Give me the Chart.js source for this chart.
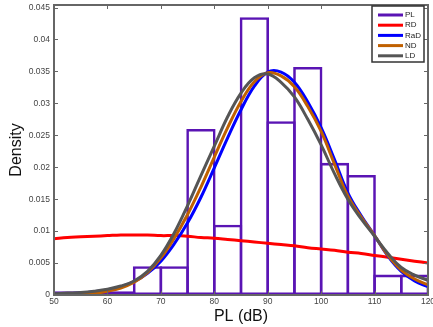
<!DOCTYPE html>
<html>
<head>
<meta charset="utf-8">
<script src="https://cdn.jsdelivr.net/npm/chart.js@4.4.0/dist/chart.umd.min.js"></script>
<style>
  body { margin: 0; background: #fff; }
  #wrap { width: 433px; height: 327px; }
</style>
</head>
<body>
<div id="wrap"><canvas id="chart" width="433" height="327"></canvas></div>
<script>
// histogram of measured PL, bins of 5 dB
const binEdges = [50, 55, 60, 65, 70, 75, 80, 85, 90, 95, 100, 105, 110, 115, 120];
const plDensity = [0.0006, 0.0006, 0.0006, 0.0045, 0.0045, 0.026, 0.011, 0.0435, 0.0272, 0.0357, 0.0207, 0.0188, 0.0032, 0.0032];

// fitted densities
const curveX = [50, 52.5, 55, 57.5, 60, 62.5, 65, 67.5, 70, 72.5, 75, 77.5, 80, 82.5, 85, 87.5,
  90, 92.5, 95, 97.5, 100, 102.5, 105, 107.5, 110, 112.5, 115, 117.5, 120];
const rd = [0.0088, 0.0090, 0.0091, 0.0092, 0.0093, 0.0094, 0.0094, 0.0094, 0.0093, 0.0093, 0.0092, 0.0090, 0.0089, 0.0087, 0.0085, 0.0083,
  0.0081, 0.0079, 0.0077, 0.0074, 0.0072, 0.0070, 0.0067, 0.0065, 0.0062, 0.0059, 0.0056, 0.0053, 0.0050];
const rad = [0.0001, 0.0002, 0.0003, 0.0005, 0.0008, 0.0013, 0.0021, 0.0034, 0.0053, 0.0080, 0.0113, 0.0153, 0.0199, 0.0246, 0.0290, 0.0327,
  0.0349, 0.0349, 0.0333, 0.0302, 0.0262, 0.0212, 0.0160, 0.0124, 0.0093, 0.0061, 0.0037, 0.0022, 0.0013];
const nd = [0.0000, 0.0001, 0.0002, 0.0003, 0.0006, 0.0011, 0.0020, 0.0035, 0.0058, 0.0089, 0.0126, 0.0169, 0.0216, 0.0262, 0.0303, 0.0334,
  0.0348, 0.0343, 0.0326, 0.0295, 0.0256, 0.0205, 0.0155, 0.0122, 0.0093, 0.0062, 0.0039, 0.0025, 0.0016];
const ld = [0.0002, 0.0003, 0.0004, 0.0006, 0.0009, 0.0014, 0.0022, 0.0037, 0.0062, 0.0097, 0.0140, 0.0187, 0.0233, 0.0279, 0.0316, 0.0340,
  0.0346, 0.0333, 0.0310, 0.0275, 0.0235, 0.0190, 0.0150, 0.0119, 0.0092, 0.0065, 0.0043, 0.0031, 0.0023];

const xTicks = [50, 60, 70, 80, 90, 100, 110, 120];
const yTicks = [0, 0.005, 0.01, 0.015, 0.02, 0.025, 0.03, 0.035, 0.04, 0.045];

const toPoints = (ys) => ys.map((v, i) => ({ x: curveX[i], y: v }));

function curve(label, ys, color, order) {
  return {
    type: 'line',
    label: label,
    data: toPoints(ys),
    borderColor: color,
    backgroundColor: color,
    borderWidth: 3,
    pointRadius: 0,
    tension: 0.4,
    fill: false,
    order: order
  };
}

// box around the axes, with inward tick marks (matlab style)
const framePlugin = {
  id: 'frame',
  afterDatasetsDraw(chart) {
    const { ctx, chartArea: a, scales: { x, y } } = chart;
    ctx.save();
    ctx.strokeStyle = '#666';
    ctx.lineWidth = 1;
    ctx.beginPath();
    x.ticks.forEach(t => {
      const px = Math.round(x.getPixelForValue(t.value)) + 0.5;
      ctx.moveTo(px, a.bottom); ctx.lineTo(px, a.bottom - 4);
      ctx.moveTo(px, a.top); ctx.lineTo(px, a.top + 4);
    });
    y.ticks.forEach(t => {
      const py = Math.round(y.getPixelForValue(t.value)) + 0.5;
      ctx.moveTo(a.left, py); ctx.lineTo(a.left + 4, py);
      ctx.moveTo(a.right, py); ctx.lineTo(a.right - 4, py);
    });
    ctx.stroke();
    ctx.lineWidth = 2;
    ctx.strokeRect(a.left, a.top, a.right - a.left, a.bottom - a.top);
    ctx.restore();
  }
};

// legend box inside the top right corner
const boxLegend = {
  id: 'boxLegend',
  afterDraw(chart) {
    const { ctx, chartArea: a } = chart;
    const w = 52, h = 56;
    const left = a.right - w - 4, top = a.top + 1;
    ctx.save();
    ctx.fillStyle = '#fff';
    ctx.fillRect(left, top, w, h);
    ctx.strokeStyle = '#333';
    ctx.lineWidth = 1.5;
    ctx.strokeRect(left, top, w, h);
    ctx.font = '8px "Liberation Sans", Arial, sans-serif';
    ctx.textBaseline = 'middle';
    chart.data.datasets.forEach((ds, i) => {
      const cy = top + 9 + i * 10.2;
      ctx.strokeStyle = ds.borderColor;
      ctx.lineWidth = 3;
      ctx.beginPath();
      ctx.moveTo(left + 6, cy);
      ctx.lineTo(left + 31, cy);
      ctx.stroke();
      ctx.fillStyle = '#222';
      ctx.fillText(ds.label, left + 33, cy);
    });
    ctx.restore();
  }
};

const purple = '#5a14b4';
const tickFont = { family: '"Liberation Sans", Arial, sans-serif', size: 8.5 };

new Chart(document.getElementById('chart'), {
  type: 'line',
  data: {
    datasets: [
      {
        type: 'bar',
        label: 'PL',
        data: plDensity.map((v, i) => ({ x: (binEdges[i] + binEdges[i + 1]) / 2, y: v })),
        backgroundColor: 'rgba(255,255,255,0)',
        borderColor: purple,
        borderWidth: 2.6,
        borderSkipped: false,
        barPercentage: 1.097,
        categoryPercentage: 1,
        order: 5
      },
      curve('RD', rd, '#ff0000', 4),
      curve('RaD', rad, '#0000ff', 3),
      curve('ND', nd, '#c06000', 2),
      curve('LD', ld, '#555555', 1)
    ]
  },
  options: {
    responsive: false,
    animation: false,
    layout: { padding: { top: 5, right: 5, left: 0, bottom: 0 } },
    plugins: {
      legend: { display: false },
      tooltip: { enabled: false }
    },
    scales: {
      x: {
        type: 'linear',
        min: 50,
        max: 120,
        offset: false,
        grid: { display: false, drawTicks: false },
        border: { display: false },
        afterBuildTicks: (scale) => { scale.ticks = xTicks.map(v => ({ value: v })); },
        afterFit: (scale) => {
          scale.height = 32;
          scale.paddingLeft = 0;
          scale.paddingRight = 0;
        },
        ticks: { autoSkip: false, maxRotation: 0, padding: 2, color: '#444', font: tickFont },
        title: {
          display: true,
          text: 'PL (dB)',
          color: '#111',
          padding: { top: 0, bottom: 1 },
          font: { family: '"Liberation Sans", Arial, sans-serif', size: 16 }
        }
      },
      y: {
        min: 0,
        max: 0.0454,
        grid: { display: false, drawTicks: false },
        border: { display: false },
        afterBuildTicks: (scale) => { scale.ticks = yTicks.map(v => ({ value: v })); },
        afterFit: (scale) => {
          scale.width = 54;
          scale.paddingTop = 0;
          scale.paddingBottom = 0;
        },
        ticks: {
          padding: 4,
          color: '#444',
          font: tickFont,
          callback: (v) => String(+v.toFixed(3))
        },
        title: {
          display: true,
          text: 'Density',
          color: '#111',
          padding: { top: 6.5, bottom: 0 },
          font: { family: '"Liberation Sans", Arial, sans-serif', size: 16 }
        }
      }
    }
  },
  plugins: [framePlugin, boxLegend]
});
</script>
</body>
</html>
